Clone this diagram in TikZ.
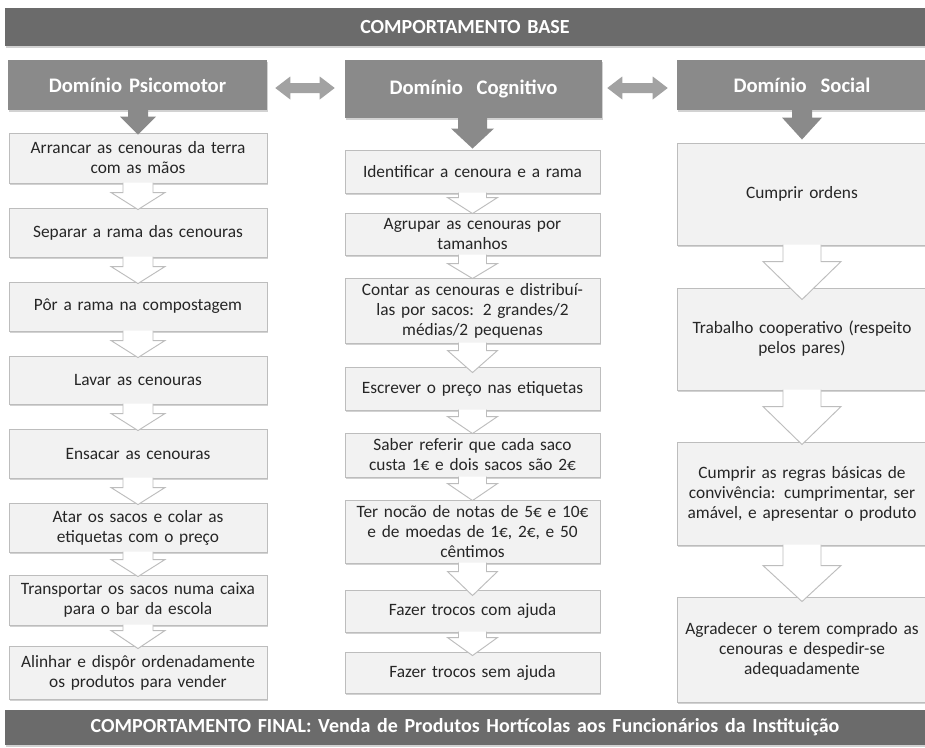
\documentclass[tikz,border=0pt]{standalone}
\usepackage{fontspec}
\setmainfont{Carlito}
\usetikzlibrary{shadows,calc}
\definecolor{barc}{HTML}{6B6B6B}
\definecolor{headc}{HTML}{8A8A8A}
\definecolor{dblc}{HTML}{A2A2A2}
\definecolor{boxfill}{HTML}{F2F2F2}
\definecolor{boxline}{HTML}{BDBDBD}
\definecolor{txt}{HTML}{262626}
\tikzset{
  shd/.style={drop shadow={opacity=0.35,shadow xshift=1.1pt,shadow yshift=-1.4pt}},
  barbox/.style={fill=barc,text=white,font=\fontsize{15}{17}\selectfont\bfseries,inner sep=0pt,align=center,shd},
  headbox/.style={fill=headc,text=white,font=\fontsize{15.5}{18}\selectfont\bfseries,inner sep=0pt,align=center,shd},
  stepbox/.style={fill=boxfill,draw=boxline,line width=0.7pt,text=txt,align=center,font=\fontsize{13}{15}\selectfont,inner sep=0pt,shd},
  hollowfill/.style={fill=white},
  hollowline/.style={draw=boxline,line width=0.7pt,line join=miter},
  solidarrow/.style={fill=headc},
  dblarrow/.style={fill=dblc},
}
% #1 name, #2 style, #3 x1, #4 y1, #5 x2, #6 y2, #7 text
\newcommand{\rnode}[7]{%
  \pgfmathsetmacro{\rw}{(#5-#3)*0.75}%
  \pgfmathsetmacro{\rh}{(#6-#4)*0.75}%
  \pgfmathsetmacro{\rtw}{(#5-#3)*0.75-4}%
  \node[#2,minimum width=\rw pt,minimum height=\rh pt,text width=\rtw pt] (#1) at ({(#3+#5)/2},{(#4+#6)/2}) {#7};}
% hollow arrow: #1 from, #2 to, #3 half shaft, #4 half head, #5 head length, #6 overshoot
\newcommand{\harrow}[6]{%
  \coordinate (A) at ($(#1.south)+(0,-0.8)$);
  \coordinate (T) at ($(#2.north)+(0,#6)$);
  \coordinate (H) at ($(T)+(0,-#5)$);
  \fill[hollowfill] ($(H|-A)+(-#3,0)$) -- ($(H)+(-#3,0)$) -- ($(H)+(-#4,0)$) -- (T) -- ($(H)+(#4,0)$) -- ($(H)+(#3,0)$) -- ($(H|-A)+(#3,0)$) -- cycle;
  \draw[hollowline] ($(H|-A)+(-#3,0)$) -- ($(H)+(-#3,0)$) -- ($(H)+(-#4,0)$) -- (T) -- ($(H)+(#4,0)$) -- ($(H)+(#3,0)$) -- ($(H|-A)+(#3,0)$);}
% solid arrow
\newcommand{\sarrow}[6]{%
  \coordinate (A) at ($(#1.south)+(0,-0.5)$);
  \coordinate (T) at ($(#2.north)+(0,#6)$);
  \coordinate (H) at ($(T)+(0,-#5)$);
  \fill[solidarrow] ($(T|-A)+(-#3,0)$) -- ($(H)+(-#3,0)$) -- ($(H)+(-#4,0)$) -- (T) -- ($(H)+(#4,0)$) -- ($(H)+(#3,0)$) -- ($(T|-A)+(#3,0)$) -- cycle;}
% double arrow between #1 (left tip) and #2 (right tip)
\newcommand{\darrow}[2]{%
  \fill[dblarrow] (#1) -- ($(#1)+(15,-11.5)$) -- ($(#1)+(15,-5)$) -- ($(#2)+(-15,-5)$) -- ($(#2)+(-15,-11.5)$) -- (#2) -- ($(#2)+(-15,11.5)$) -- ($(#2)+(-15,5)$) -- ($(#1)+(15,5)$) -- ($(#1)+(15,11.5)$) -- cycle;}
\begin{document}
\begin{tikzpicture}[x=0.75pt,y=-0.75pt]
\fill[white] (0,0) rectangle (925,747);
\useasboundingbox (0,0) rectangle (925,747);

\rnode{base}{barbox}{5}{8}{925}{46}{COMPORTAMENTO BASE}
\rnode{fin}{barbox}{5}{710}{925}{745}{COMPORTAMENTO FINAL: Venda de Produtos Hortícolas aos Funcionários da Instituição}

\rnode{psi}{headbox}{8}{60}{267}{110}{Domínio Psicomotor}
\rnode{cog}{headbox}{345}{60}{602}{118}{Domínio\ \ Cognitivo}
\rnode{soc}{headbox}{677}{60}{927}{110}{Domínio\ \ Social}

% Psicomotor column
\rnode{p1}{stepbox}{9}{133}{267}{183}{Arrancar as cenouras da terra\\com as mãos}
\rnode{p2}{stepbox}{9}{208}{267}{257}{Separar a rama das cenouras}
\rnode{p3}{stepbox}{9}{282}{267}{331}{Pôr a rama na compostagem}
\rnode{p4}{stepbox}{9}{356}{267}{404}{Lavar as cenouras}
\rnode{p5}{stepbox}{9}{429}{267}{478}{Ensacar as cenouras}
\rnode{p6}{stepbox}{9}{503}{267}{552}{Atar os sacos e colar as\\etiquetas com o preço}
\rnode{p7}{stepbox}{9}{575}{267}{625}{Transportar os sacos numa caixa\\para o bar da escola}
\rnode{p8}{stepbox}{9}{646}{267}{699}{Alinhar e dispôr ordenadamente\\os produtos para vender}

% Cognitivo column
\rnode{c1}{stepbox}{345}{150}{600}{193}{Identificar a cenoura e a rama}
\rnode{c2}{stepbox}{345}{213}{600}{255}{Agrupar as cenouras por\\tamanhos}
\rnode{c3}{stepbox}{345}{278}{600}{343}{Contar as cenouras e distribuí-\\las por sacos: 2 grandes/2\\médias/2 pequenas}
\rnode{c4}{stepbox}{345}{367}{600}{410}{Escrever o preço nas etiquetas}
\rnode{c5}{stepbox}{345}{433}{600}{477}{Saber referir que cada saco\\custa 1€ e dois sacos são 2€}
\rnode{c6}{stepbox}{345}{500}{600}{563}{Ter nocão de notas de 5€ e 10€\\e de moedas de 1€, 2€, e 50\\cêntimos}
\rnode{c7}{stepbox}{345}{590}{600}{632}{Fazer trocos com ajuda}
\rnode{c8}{stepbox}{345}{652}{600}{693}{Fazer trocos sem ajuda}

% Social column
\rnode{s1}{stepbox}{677}{143}{927}{245}{Cumprir ordens}
\rnode{s2}{stepbox}{677}{288}{927}{390}{Trabalho cooperativo (respeito\\pelos pares)}
\rnode{s3}{stepbox}{677}{442}{927}{545}{Cumprir as regras básicas de\\convivência: cumprimentar, ser\\amável, e apresentar o produto}
\rnode{s4}{stepbox}{677}{597}{927}{702}{Agradecer o terem comprado as\\cenouras e despedir-se\\adequadamente}

% solid arrows from headers
\sarrow{psi}{p1}{10}{18}{18}{2}
\sarrow{cog}{c1}{14.5}{21.5}{20}{-1}
\sarrow{soc}{s1}{10}{20}{22}{-3}

% double arrows
\coordinate (d1l) at ($(psi.east)+(8,3)$);
\coordinate (d1r) at ($(cog.west)+(-10,-1)$);
\darrow{d1l}{d1r}
\coordinate (d2l) at ($(cog.east)+(5,-1)$);
\coordinate (d2r) at ($(soc.west)+(-9,3)$);
\darrow{d2l}{d2r}

% Psicomotor arrows
\harrow{p1}{p2}{15}{27}{17}{2}
\harrow{p2}{p3}{15}{27}{17}{2}
\harrow{p3}{p4}{15}{27}{17}{2}
\harrow{p4}{p5}{15}{27}{17}{2}
\harrow{p5}{p6}{15}{27}{17}{2}
\harrow{p6}{p7}{15}{27}{17}{2}
\harrow{p7}{p8}{15}{27}{18}{3}

% Cognitivo arrows
\harrow{c1}{c2}{14}{25}{16}{1}
\harrow{c2}{c3}{14}{25}{15}{1}
\harrow{c3}{c4}{14}{25}{22}{6}
\harrow{c4}{c5}{14}{25}{17}{1}
\harrow{c5}{c6}{14}{25}{17}{1}
\harrow{c6}{c7}{14}{25}{24}{6}
\harrow{c7}{c8}{14}{25}{18}{4}

% Social arrows
\harrow{s1}{s2}{19}{39}{38}{12}
\harrow{s2}{s3}{19}{39}{38}{3}
\harrow{s3}{s4}{19}{39}{36}{5}
\end{tikzpicture}
\end{document}
